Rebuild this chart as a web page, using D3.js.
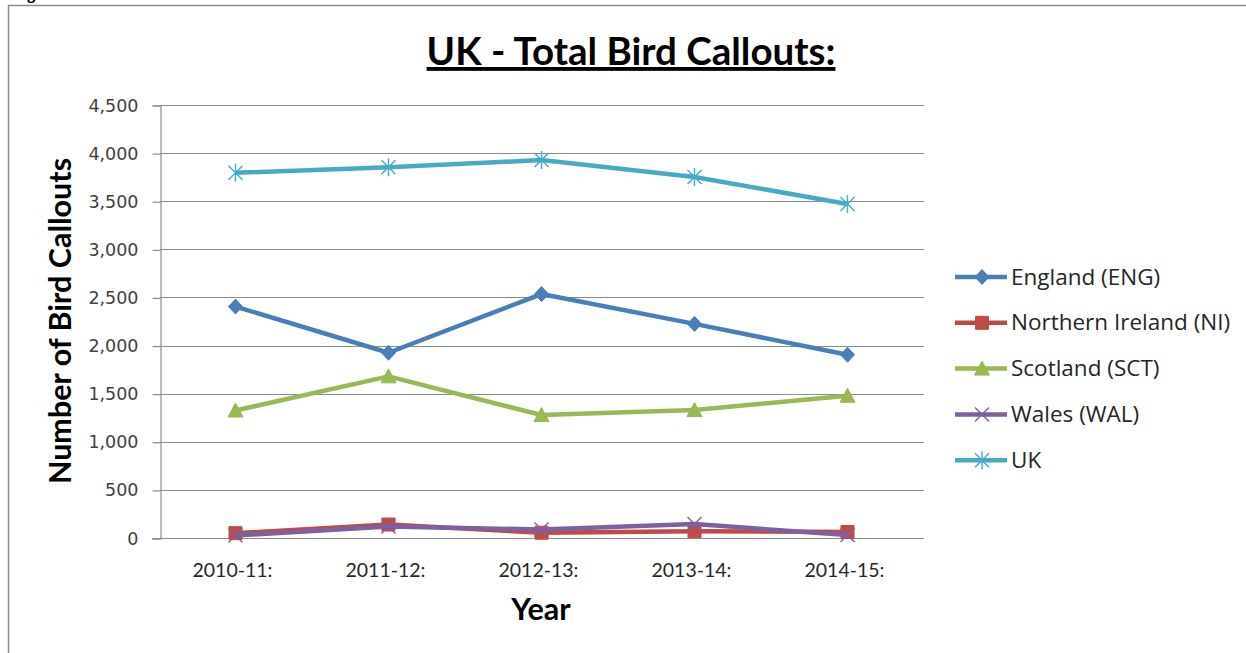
<!DOCTYPE html>
<html>
<head>
<meta charset="utf-8">
<script src="https://cdn.jsdelivr.net/npm/d3@7"></script>
<style>
  body { margin: 0; background: #fff; }
  svg { display: block; }
</style>
</head>
<body>
<div id="chart"></div>
<script>
// chart data
var years = ["2010-11:", "2011-12:", "2012-13:", "2013-14:", "2014-15:"];
var seriesNames = ["England (ENG)", "Northern Ireland (NI)", "Scotland (SCT)", "Wales (WAL)", "UK"];
var england = [2405, 1925, 2535, 2225, 1905];
var northernIreland = [50, 140, 55, 70, 62];
var scotland = [1325, 1680, 1278, 1330, 1478];
var wales = [25, 120, 88, 145, 30];
var uk = [3795, 3852, 3928, 3752, 3472];
var yTicks = [0, 500, 1000, 1500, 2000, 2500, 3000, 3500, 4000, 4500];

var colors = ["#4a7ebb", "#be4b48", "#98b954", "#7d60a0", "#46aac5"];
var markers = ["diamond", "square", "triangle", "x", "star"];
var allValues = [england, northernIreland, scotland, wales, uk];

var width = 1246, height = 653;

var svg = d3.select("#chart").append("svg")
  .attr("width", width)
  .attr("height", height);

// outer frame (runs off the right and bottom)
svg.append("path")
  .attr("d", "M8.5,660 V5.5 H1250")
  .attr("fill", "none")
  .attr("stroke", "#8c8c8c")
  .attr("stroke-width", 1.5);

// clipped caption descender above frame
svg.append("text")
  .attr("x", 27).attr("y", 0)
  .attr("font-family", "Lato, sans-serif")
  .attr("font-weight", "bold")
  .attr("font-size", 16)
  .text("g");

var x = d3.scalePoint().domain(years).range([159, 924]).padding(0.5);
var y = d3.scaleLinear().domain([0, 4500]).range([538, 105]);

// gridlines
svg.append("g").selectAll("line")
  .data(yTicks.slice(1))
  .enter()
  .append("line")
  .attr("x1", 160).attr("x2", 924)
  .attr("y1", function(d) { return Math.round(y(d)) + 0.5; })
  .attr("y2", function(d) { return Math.round(y(d)) + 0.5; })
  .attr("stroke", "#8c8c8c")
  .attr("stroke-width", 1.2);

// y axis
var yAxis = svg.append("g")
  .attr("transform", "translate(160.5,0.5)")
  .call(d3.axisLeft(y).tickValues(yTicks).tickSize(8).tickPadding(14)
    .tickFormat(d3.format(",")));
yAxis.select(".domain").attr("stroke", "#8c8c8c").attr("stroke-width", 1.2);
yAxis.selectAll(".tick line").attr("stroke", "#8c8c8c").attr("stroke-width", 1.2);
yAxis.selectAll("text")
  .attr("font-family", "'DejaVu Sans', Verdana, sans-serif")
  .attr("font-size", 17.5)
  .attr("fill", "#404040");

// x axis line
svg.append("line")
  .attr("x1", 152).attr("x2", 924)
  .attr("y1", 538.5).attr("y2", 538.5)
  .attr("stroke", "#8c8c8c")
  .attr("stroke-width", 1.2);

// x tick labels
svg.append("g").selectAll("text")
  .data(years)
  .enter()
  .append("text")
  .attr("x", function(d) { return x(d) - 3; })
  .attr("y", 577)
  .attr("text-anchor", "middle")
  .attr("font-family", "Lato, sans-serif")
  .attr("font-size", 19.5)
  .attr("fill", "#262626")
  .text(function(d) { return d; });

// titles
svg.append("text")
  .attr("x", 631).attr("y", 65)
  .attr("text-anchor", "middle")
  .attr("font-family", "Lato, sans-serif")
  .attr("font-weight", "bold")
  .attr("font-size", 38.5)
  .attr("text-decoration", "underline")
  .text("UK - Total Bird Callouts:");

svg.append("text")
  .attr("transform", "translate(71,321) rotate(-90)")
  .attr("text-anchor", "middle")
  .attr("font-family", "Lato, sans-serif")
  .attr("font-weight", "bold")
  .attr("font-size", 30.5)
  .text("Number of Bird Callouts");

svg.append("text")
  .attr("x", 541).attr("y", 620)
  .attr("text-anchor", "middle")
  .attr("font-family", "Lato, sans-serif")
  .attr("font-weight", "bold")
  .attr("font-size", 30.5)
  .text("Year");

// marker shapes
function markerPath(kind) {
  if (kind == "diamond") return "M0,-7.5L7,0L0,7.5L-7,0Z";
  if (kind == "square") return "M-6.5,-6.5H6.5V6.5H-6.5Z";
  if (kind == "triangle") return "M0,-7.5L7.5,6.5H-7.5Z";
  if (kind == "x") return "M-7,-7L7,7M-7,7L7,-7";
  return "M-7,-7L7,7M-7,7L7,-7M0,-9V9";
}

function drawMarker(g, kind, color) {
  var filled = kind == "diamond" || kind == "square" || kind == "triangle";
  g.append("path")
    .attr("d", markerPath(kind))
    .attr("fill", filled ? color : "none")
    .attr("stroke", color)
    .attr("stroke-width", filled ? 1 : 1.4);
}

var line = d3.line()
  .x(function(d, i) { return x(years[i]); })
  .y(function(d) { return y(d); });

// draw series in order (Wales over NI, UK on top)
allValues.forEach(function(vals, s) {
  var g = svg.append("g");
  g.append("path")
    .datum(vals)
    .attr("d", line)
    .attr("fill", "none")
    .attr("stroke", colors[s])
    .attr("stroke-width", 4.5)
    .attr("stroke-linejoin", "round");
  vals.forEach(function(v, i) {
    var m = g.append("g").attr("transform", "translate(" + x(years[i]) + "," + y(v) + ")");
    drawMarker(m, markers[s], colors[s]);
  });
});

// legend
var legend = svg.append("g").attr("transform", "translate(955,277)");
seriesNames.forEach(function(name, s) {
  var row = legend.append("g").attr("transform", "translate(0," + (s * 45.8) + ")");
  row.append("line")
    .attr("x1", 0).attr("x2", 52)
    .attr("y1", 0).attr("y2", 0)
    .attr("stroke", colors[s])
    .attr("stroke-width", 4.5);
  var m = row.append("g").attr("transform", "translate(27,0)");
  drawMarker(m, markers[s], colors[s]);
  row.append("text")
    .attr("x", 56).attr("y", 7.5)
    .attr("font-family", "'Open Sans', sans-serif")
    .attr("font-size", 22.5)
    .attr("fill", "#262626")
    .text(name);
});
</script>
</body>
</html>
